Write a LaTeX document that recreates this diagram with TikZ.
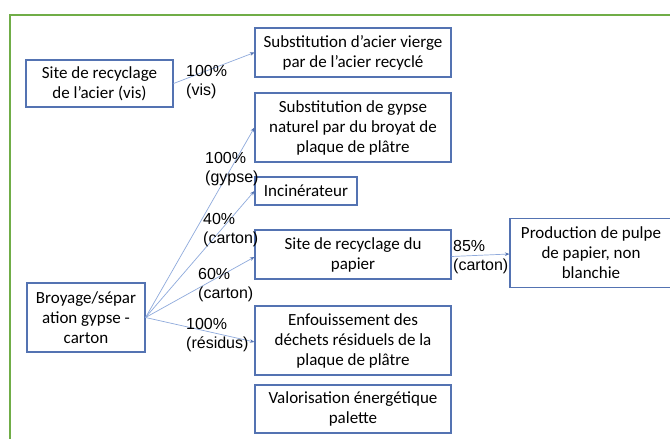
\documentclass[tikz,border=0pt]{standalone}
\usepackage{fontspec}
\setmainfont{Carlito}
\newfontfamily\lblfont{Liberation Sans}
\usetikzlibrary{arrows.meta}
\definecolor{boxblue}{RGB}{84,115,178}
\definecolor{arrblue}{RGB}{143,170,220}
\definecolor{framegreen}{RGB}{112,173,71}
\begin{document}
\begin{tikzpicture}[x=1pt,y=-1pt,
    box/.style={draw=boxblue,line width=1.1pt,inner sep=0pt,align=center,
      font=\fontsize{17}{20}\selectfont},
    flow/.style={draw=arrblue,line width=0.7pt,-{Stealth[length=4.5pt,width=3.5pt,boxblue]}},
    lbl/.style={inner sep=0pt,anchor=north west,align=left,
      font=\lblfont\fontsize{16}{19.5}\selectfont}]
    \useasboundingbox (0,0) rectangle (670,439);
    \fill [white] (0,0) rectangle (670,439);
    \draw [framegreen,line width=2.4pt] (10,439) -- (10,15) -- (670,15);
    % boxes
    \node [box,minimum width=147pt,minimum height=47pt] (acier) at (99.5,83.5) {Site de recyclage\\de l’acier (vis)};
    \node [box,minimum width=196pt,minimum height=49pt] (substAcier) at (353,52.5) {Substitution d’acier vierge\\par de l’acier recyclé};
    \node [box,minimum width=196pt,minimum height=69pt] (substGypse) at (353,127.5) {Substitution de gypse\\naturel par du broyat de\\plaque de plâtre};
    \node [box,minimum width=102pt,minimum height=28pt] (incin) at (306,191) {Incinérateur};
    \node [box,minimum width=196pt,minimum height=49pt] (papier) at (353,254.5) {Site de recyclage du\\papier};
    \node [box,minimum width=162pt,minimum height=69pt] (pulpe) at (591,253) {Production de pulpe\\de papier, non\\blanchie};
    \node [box,minimum width=118pt,minimum height=69pt] (broyage) at (86,317.5) {Broyage/sépar\\ation gypse -\\carton};
    \node [box,minimum width=196pt,minimum height=69pt] (enfouis) at (353,340.5) {Enfouissement des\\déchets résiduels de la\\plaque de plâtre};
    \node [box,minimum width=196pt,minimum height=48pt] (valor) at (353,409) {Valorisation énergétique\\palette};
    % flows
    \draw [flow] (acier.east) -- (substAcier.west);
    \draw [flow] (broyage.east) -- (substGypse.west);
    \draw [flow] (broyage.east) -- (incin.west);
    \draw [flow] (broyage.east) -- ([yshift=-2.5pt]papier.west);
    \draw [flow] (broyage.east) -- ([yshift=-1.5pt]enfouis.west);
    \draw [flow] ([yshift=-2pt]papier.east) -- ([yshift=-1pt]pulpe.west);
    % labels
    \node [lbl] (lVis) at (186,65) {100\%\\(vis)};
    \node [lbl] (lGypse) at (205,152) {100\%\\(gypse)};
    \node [lbl] (lInc) at (203,213) {40\%\\(carton)};
    \node [lbl] (lPap) at (198,268) {60\%\\(carton)};
    \node [lbl] (lRes) at (186,318) {100\%\\(résidus)};
    \node [lbl] (lPulpe) at (453,240) {85\%\\(carton)};
\end{tikzpicture}
\end{document}
